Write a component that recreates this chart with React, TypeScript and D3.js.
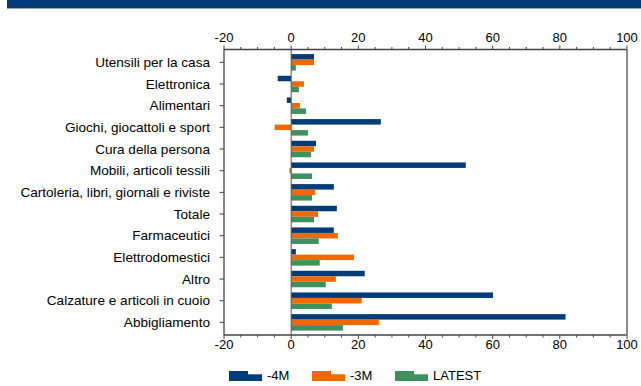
import React from "react";
import * as d3 from "d3";

const categories = [
  "Utensili per la casa",
  "Elettronica",
  "Alimentari",
  "Giochi, giocattoli e sport",
  "Cura della persona",
  "Mobili, articoli tessili",
  "Cartoleria, libri, giornali e riviste",
  "Totale",
  "Farmaceutici",
  "Elettrodomestici",
  "Altro",
  "Calzature e articoli in cuoio",
  "Abbigliamento",
];

const seriesNames = ["-4M", "-3M", "LATEST"];
const m4 = [6.8, -4.0, -1.3, 26.7, 7.4, 52.0, 12.7, 13.6, 12.7, 1.4, 21.9, 60.1, 81.7];
const m3 = [6.8, 3.8, 2.6, -4.9, 6.8, -0.5, 7.1, 8.0, 13.9, 18.7, 13.3, 21.0, 26.1];
const latest = [1.4, 2.3, 4.4, 5.0, 5.9, 6.2, 6.2, 6.8, 8.2, 8.5, 10.3, 12.1, 15.4];
const seriesValues = [m4, m3, latest];
const colors = ["#003B7A", "#EE6A00", "#3E915D"];
const xTicks = [-20, 0, 20, 40, 60, 80, 100];
const xMinorTicks = d3.range(-20, 101, 5);

const W = 641;
const H = 386;
const FONT = "'Liberation Sans', Arial, sans-serif";

export default function App() {
  const x = d3.scaleLinear().domain([-20, 100]).range([224, 627]);
  const plotTop = 49.5;
  const plotBottom = 335;
  const y = d3.scaleBand<string>().domain(categories).range([51.5, 333.2]).padding(0);
  const groupH = 16.5;
  const sub = d3.scaleBand<number>().domain([0, 1, 2]).range([0, groupH]).padding(0);
  const legendX = [229, 312, 395];

  return (
    <svg
      width={W}
      height={H}
      style={{ position: "absolute", left: 0, top: 0, background: "#fff" }}
      fontFamily={FONT}
    >
      <rect x={7} y={0} width={W - 7} height={8} fill="#003A78" />
      <line x1={7} x2={W} y1={8.5} y2={8.5} stroke="#9aa6b4" strokeWidth={1} />

      {/* bars */}
      {categories.map((c, i) => {
        const cy = (y(c) as number) + y.bandwidth() / 2;
        return seriesValues.map((vals, s) => {
          const v = vals[i];
          const x0 = x(Math.min(0, v));
          const x1 = x(Math.max(0, v));
          return (
            <rect
              key={c + s}
              x={x0}
              y={cy - groupH / 2 + (sub(s) as number)}
              width={x1 - x0}
              height={sub.bandwidth()}
              fill={colors[s]}
            />
          );
        });
      })}

      {/* zero line */}
      <line x1={x(0)} x2={x(0)} y1={plotTop} y2={plotBottom} stroke="#555" strokeWidth={1} />

      {/* frame */}
      <line x1={x(-20)} x2={x(100)} y1={plotTop} y2={plotTop} stroke="#444" strokeWidth={1.3} />
      <line x1={x(-20)} x2={x(100)} y1={plotBottom} y2={plotBottom} stroke="#444" strokeWidth={1.3} />
      <line x1={x(-20)} x2={x(-20)} y1={plotTop} y2={plotBottom} stroke="#444" strokeWidth={1.3} />
      <line x1={x(100)} x2={x(100)} y1={plotTop} y2={plotBottom} stroke="#8a8a8a" strokeWidth={2} />

      {/* ticks */}
      {xMinorTicks.map((t) => {
        const major = t % 20 === 0;
        const len = major ? 4 : 2.5;
        return (
          <g key={"t" + t}>
            <line x1={x(t)} x2={x(t)} y1={plotTop} y2={plotTop - len} stroke="#444" strokeWidth={1} />
            <line x1={x(t)} x2={x(t)} y1={plotBottom} y2={plotBottom + len} stroke="#444" strokeWidth={1} />
          </g>
        );
      })}
      {xTicks.map((t) => (
        <g key={"l" + t} fontSize={13} fill="#000" textAnchor="middle">
          <text x={x(t)} y={41.5}>{t}</text>
          <text x={x(t)} y={349}>{t}</text>
        </g>
      ))}

      {/* category labels */}
      {categories.map((c) => {
        const cy = (y(c) as number) + y.bandwidth() / 2;
        return (
          <g key={"c" + c}>
            <line x1={219.5} x2={224} y1={cy} y2={cy} stroke="#444" strokeWidth={1} />
            <text x={210} y={cy + 4.5} fontSize={13.6} textAnchor="end" fill="#000">
              {c}
            </text>
          </g>
        );
      })}

      {/* legend */}
      {seriesNames.map((n, s) => {
        const lx = legendX[s];
        return (
          <g key={"lg" + n}>
            <rect x={lx} y={371} width={19} height={10} fill={colors[s]} />
            <rect x={lx + 19} y={374.3} width={14} height={6.7} fill={colors[s]} />
            <text x={lx + 38} y={379.5} fontSize={13} fill="#000">
              {n}
            </text>
          </g>
        );
      })}
    </svg>
  );
}
